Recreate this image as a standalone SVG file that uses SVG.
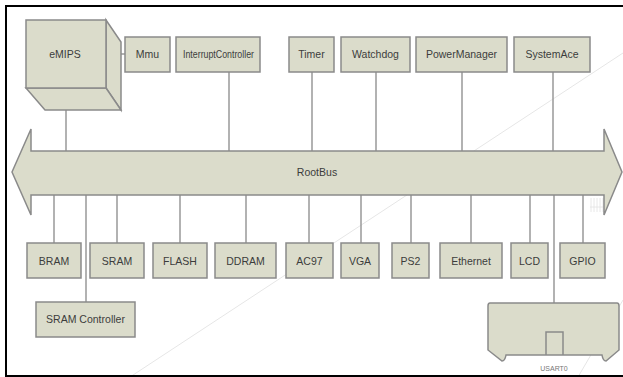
<svg xmlns="http://www.w3.org/2000/svg" width="623" height="377" viewBox="0 0 623 377">
  <style>
    .box { fill: #dbdccb; stroke: #8a8a8a; stroke-width: 1.5; }
    .lbl { font-family: "Liberation Sans", Arial, sans-serif; font-size: 10.5px; fill: #3c3c3c; text-anchor: middle; }
    .wire { stroke: #999999; stroke-width: 1.5; fill: none; }
    .ghost { stroke: #e6e6e6; stroke-width: 1; fill: none; }
  </style>

  <!-- background -->
  <rect x="0" y="0" width="623" height="377" fill="#ffffff"/>
  <line class="ghost" x1="130" y1="377" x2="623" y2="53"/>
  <line class="ghost" x1="578" y1="377" x2="623" y2="300"/>
  <g stroke="#e2e2e2" stroke-width="0.8">
    <line x1="591" y1="198" x2="591" y2="212"/>
    <line x1="594" y1="198" x2="594" y2="212"/>
    <line x1="597" y1="198" x2="597" y2="212"/>
    <line x1="600" y1="198" x2="600" y2="212"/>
    <line x1="603" y1="198" x2="603" y2="212"/>
    <line x1="590" y1="207" x2="606" y2="207"/>
  </g>

  <!-- frame -->
  <rect x="6" y="6" width="630" height="370" fill="none" stroke="#000000" stroke-width="2"/>

  <!-- connectors -->
  <g id="connectors">
    <line class="wire" x1="106" y1="54" x2="125" y2="54"/>
    <line class="wire" x1="66" y1="88" x2="66" y2="151"/>
    <line class="wire" x1="229" y1="72" x2="229" y2="151"/>
    <line class="wire" x1="312" y1="72" x2="312" y2="151"/>
    <line class="wire" x1="376" y1="72" x2="376" y2="151"/>
    <line class="wire" x1="462" y1="72" x2="462" y2="151"/>
    <line class="wire" x1="553" y1="72" x2="553" y2="151"/>

    <line class="wire" x1="54" y1="195" x2="54" y2="243"/>
    <line class="wire" x1="86" y1="195" x2="86" y2="302"/>
    <line class="wire" x1="117" y1="195" x2="117" y2="243"/>
    <line class="wire" x1="180" y1="195" x2="180" y2="243"/>
    <line class="wire" x1="246" y1="195" x2="246" y2="243"/>
    <line class="wire" x1="309" y1="195" x2="309" y2="243"/>
    <line class="wire" x1="361" y1="195" x2="361" y2="243"/>
    <line class="wire" x1="411" y1="195" x2="411" y2="243"/>
    <line class="wire" x1="471" y1="195" x2="471" y2="243"/>
    <line class="wire" x1="530" y1="195" x2="530" y2="243"/>
    <line class="wire" x1="554" y1="195" x2="554" y2="303"/>
    <line class="wire" x1="583" y1="195" x2="583" y2="243"/>
  </g>

  <!-- bus -->
  <g id="RootBus">
    <polygon class="box" points="12,172 31,129 31,151 604,151 604,129 622,172 604,215 604,195 31,195 31,215"/>
    <text class="lbl" x="317" y="176" font-size="11">RootBus</text>
  </g>

  <!-- processor cube -->
  <g id="eMIPS">
    <polygon class="box" points="106,20 121,42 121,110 106,88"/>
    <polygon class="box" points="26,88 106,88 121,110 45,110"/>
    <rect class="box" x="26" y="20" width="80" height="68"/>
    <text class="lbl" x="65" y="58" font-size="11">eMIPS</text>
  </g>

  <!-- top peripherals -->
  <g id="Mmu"><rect class="box" x="125" y="37" width="45" height="35"/><text class="lbl" x="147.5" y="58">Mmu</text></g>
  <g id="InterruptController"><rect class="box" x="176" y="37" width="84" height="35"/><text class="lbl" x="218.5" y="58" textLength="71" lengthAdjust="spacingAndGlyphs">InterruptController</text></g>
  <g id="Timer"><rect class="box" x="289" y="37" width="45" height="35"/><text class="lbl" x="311.5" y="58">Timer</text></g>
  <g id="Watchdog"><rect class="box" x="341" y="37" width="69" height="35"/><text class="lbl" x="375.5" y="58">Watchdog</text></g>
  <g id="PowerManager"><rect class="box" x="416" y="37" width="91" height="35"/><text class="lbl" x="461.5" y="58">PowerManager</text></g>
  <g id="SystemAce"><rect class="box" x="514" y="37" width="76" height="35"/><text class="lbl" x="552" y="58">SystemAce</text></g>

  <!-- bottom peripherals -->
  <g id="BRAM"><rect class="box" x="27" y="243" width="54" height="35"/><text class="lbl" x="54" y="265">BRAM</text></g>
  <g id="SRAM"><rect class="box" x="90" y="243" width="54" height="35"/><text class="lbl" x="117" y="265">SRAM</text></g>
  <g id="FLASH"><rect class="box" x="153" y="243" width="54" height="35"/><text class="lbl" x="180" y="265">FLASH</text></g>
  <g id="DDRAM"><rect class="box" x="215" y="243" width="61" height="35"/><text class="lbl" x="245.5" y="265">DDRAM</text></g>
  <g id="AC97"><rect class="box" x="286" y="243" width="47" height="35"/><text class="lbl" x="309.5" y="265">AC97</text></g>
  <g id="VGA"><rect class="box" x="341" y="243" width="38" height="35"/><text class="lbl" x="360" y="265">VGA</text></g>
  <g id="PS2"><rect class="box" x="392" y="243" width="37" height="35"/><text class="lbl" x="410.5" y="265">PS2</text></g>
  <g id="Ethernet"><rect class="box" x="440" y="243" width="62" height="35"/><text class="lbl" x="471" y="265">Ethernet</text></g>
  <g id="LCD"><rect class="box" x="511" y="243" width="37" height="35"/><text class="lbl" x="529.5" y="265">LCD</text></g>
  <g id="GPIO"><rect class="box" x="560" y="243" width="45" height="35"/><text class="lbl" x="582.5" y="265">GPIO</text></g>

  <g id="SRAMController"><rect class="box" x="36" y="302" width="99" height="35"/><text class="lbl" x="85.5" y="323">SRAM Controller</text></g>

  <!-- serial port -->
  <g id="USART0">
    <path class="box" d="M490,303 L617,303 Q619,303 619,306 L619,350 L606,361 Q603,361 602,355 L506,355 Q505,361 502,361 L488,350 L488,306 Q488,303 490,303 Z"/>
    <path d="M546,355 L546,332 L563,332 L563,355" fill="none" stroke="#8a8a8a" stroke-width="1.5"/>
    <text x="554" y="371" font-family="Liberation Sans, Arial, sans-serif" font-size="7" fill="#777777" text-anchor="middle">USART0</text>
  </g>
</svg>
